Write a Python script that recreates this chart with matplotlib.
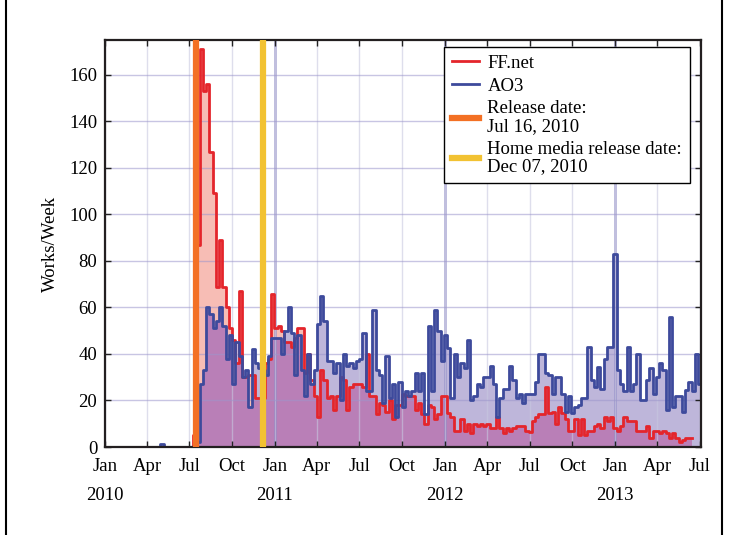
import numpy as np
import pandas as pd
import matplotlib
matplotlib.use('Agg')
import matplotlib.pyplot as plt
import matplotlib.dates as mdates
from matplotlib.lines import Line2D

plt.rcParams['font.family'] = ['Liberation Serif', 'DejaVu Serif']
plt.rcParams['font.size'] = 13.5

# weekly counts, first week starts 2010-01-01
week0 = '2010-01-01'

ffnet = ([0] * 27 + [5] +
         [87, 171, 153, 156, 127, 109, 69, 89, 69, 60, 51, 46, 36, 67, 30, 30, 31, 31, 21, 21,
          21, 36, 38, 66, 51, 52, 50, 45, 45, 43, 47, 51, 51, 32, 40, 29, 22, 13, 33, 29,
          21, 22, 16, 22, 30, 29, 16, 26, 27, 27,
          27, 26, 40, 22, 22, 14, 19, 18, 15, 20, 12, 18, 18, 23, 22, 22, 22, 16, 19, 14,
          10, 18, 17, 12, 14, 22,
          22, 14.5, 13, 7, 7, 12, 7, 10, 6, 10, 9, 10, 9, 10, 8, 8, 13, 8, 6, 8,
          7, 8, 9, 9, 9, 7,
          6.6, 11, 13, 14, 14, 26, 14.5, 15, 10, 17, 14.5, 12, 7, 7, 12, 5, 12, 5, 7, 7,
          9, 10, 8, 13, 11, 13, 8,
          7, 9, 13, 11, 11, 11, 7, 7, 7, 9, 4, 7, 7, 6, 7, 6, 4, 6, 4, 2, 3, 4, 4])

ao3 = ([0] * 17 + [1.5] + [0] * 10 +
       [2, 27, 33, 60, 57, 51, 54, 60, 52, 38, 48, 27, 45, 39, 30, 33, 17, 42, 36, 34,
        33, 31, 39, 47, 47,
        47, 40, 50, 60, 49, 31, 48, 33, 22, 40, 27, 33, 53, 65, 54, 37, 37, 32, 36, 20,
        40, 35, 36, 34, 37,
        38, 49, 24, 24, 59, 33, 31, 19, 39, 21, 27, 13, 28, 17, 24, 22, 24, 32, 24, 32,
        14, 52, 24, 59, 50, 37, 48,
        42.5, 21, 40, 30, 36, 34, 46, 20, 22, 27, 26, 30, 30, 35, 27, 13, 21, 25, 25, 35,
        29, 21, 23, 19, 23,
        23, 23, 28, 40, 40, 32, 31, 23, 30, 30, 23, 15, 22, 14.5, 17, 18, 21, 21, 43, 29,
        26, 34.5, 25, 38, 43, 43, 83,
        33, 27, 24, 43, 24, 27, 40, 20, 20, 29, 34, 23, 30, 36, 33, 16, 56, 17, 22, 22,
        15, 24.5, 28, 24, 40, 27, 14])

release_dates = ['2010-07-16', '2010-12-07']
release_labels = ['Release date:\nJul 16, 2010', 'Home media release date:\nDec 07, 2010']
years = [2010, 2011, 2012, 2013]

red = '#E4252B'
blue = '#3D4A9C'

ff = np.array(ffnet, dtype=float)
ao = np.array(ao3, dtype=float)
edges = pd.date_range(week0, periods=len(ao) + 1, freq='7D')
ff_x = edges[:len(ff) + 1]
ff_y = np.append(ff, ff[-1])
ao_y = np.append(ao, ao[-1])
both = np.minimum(ff, ao[:len(ff)])
both_y = np.append(both, both[-1])

fig = plt.figure(figsize=(7.32, 5.35), dpi=100)
ax = fig.add_axes([105 / 732, 1 - 447 / 535, 596 / 732, 407 / 535])

ax.fill_between(ff_x, 0, ff_y, step='post', color='#F7BDB5', lw=0, zorder=1)
ax.fill_between(edges, 0, ao_y, step='post', color='#BEB6DA', lw=0, zorder=1.05)
ax.fill_between(ff_x, 0, both_y, step='post', color='#B97FB7', lw=0, zorder=1.1)

ax.step(ff_x, ff_y, where='post', color=red, lw=2, label='FF.net', zorder=2)
ax.step(edges, ao_y, where='post', color=blue, lw=2, label='AO3', zorder=2.1)

for d, lab, c in zip(release_dates, release_labels, ['#F37024', '#F2C232']):
    ax.axvline(pd.Timestamp(d), color=c, lw=4.5, label=lab, zorder=3)

for y in years[1:]:
    ax.axvline(pd.Timestamp(f'{y}-01-01'), color='#8A84C4', alpha=0.6, lw=2, zorder=1.5)

ax.set_axisbelow('line')
ax.xaxis.grid(True, color='#C8C8E0', alpha=0.6, lw=1)
ax.yaxis.grid(True, color='#9C96CC', alpha=0.55, lw=1)

ax.set_xlim(pd.Timestamp('2010-01-01'), pd.Timestamp('2013-07-04'))
ax.set_ylim(0, 175)
ax.set_yticks(np.arange(0, 161, 20))
ax.xaxis.set_major_locator(mdates.MonthLocator(bymonth=[1, 4, 7, 10]))
ax.xaxis.set_major_formatter(mdates.DateFormatter('%b'))
ax.tick_params(direction='in', top=True, right=True, length=4, width=1,
               color='#222222', labelsize=13.5)
ax.tick_params(axis='x', pad=8)
ax.tick_params(axis='y', pad=5.5)
for s in ax.spines.values():
    s.set_linewidth(1.6)
    s.set_color('#231F20')

for y in years:
    ax.text(pd.Timestamp(f'{y}-01-01'), -0.12, str(y), transform=ax.get_xaxis_transform(),
            ha='center', va='center', fontsize=13.5)

ax.set_ylabel('Works/Week', fontsize=13.5)
ax.yaxis.set_label_coords(-0.078, 0.5)

leg = ax.legend(loc='upper right', bbox_to_anchor=(0.9815, 0.9828), borderaxespad=0,
                fancybox=False, edgecolor='black', framealpha=1, handlelength=1.45,
                handletextpad=0.45, labelspacing=0.3, borderpad=0.42, fontsize=13.5)
leg.get_frame().set_linewidth(1)
for t in leg.get_texts():
    t.set_linespacing(1.05)

for xf in [6 / 732, 722 / 732]:
    fig.add_artist(Line2D([xf, xf], [0, 1], transform=fig.transFigure, color='black', lw=1.5))

fig.savefig('out.png', dpi=100)
